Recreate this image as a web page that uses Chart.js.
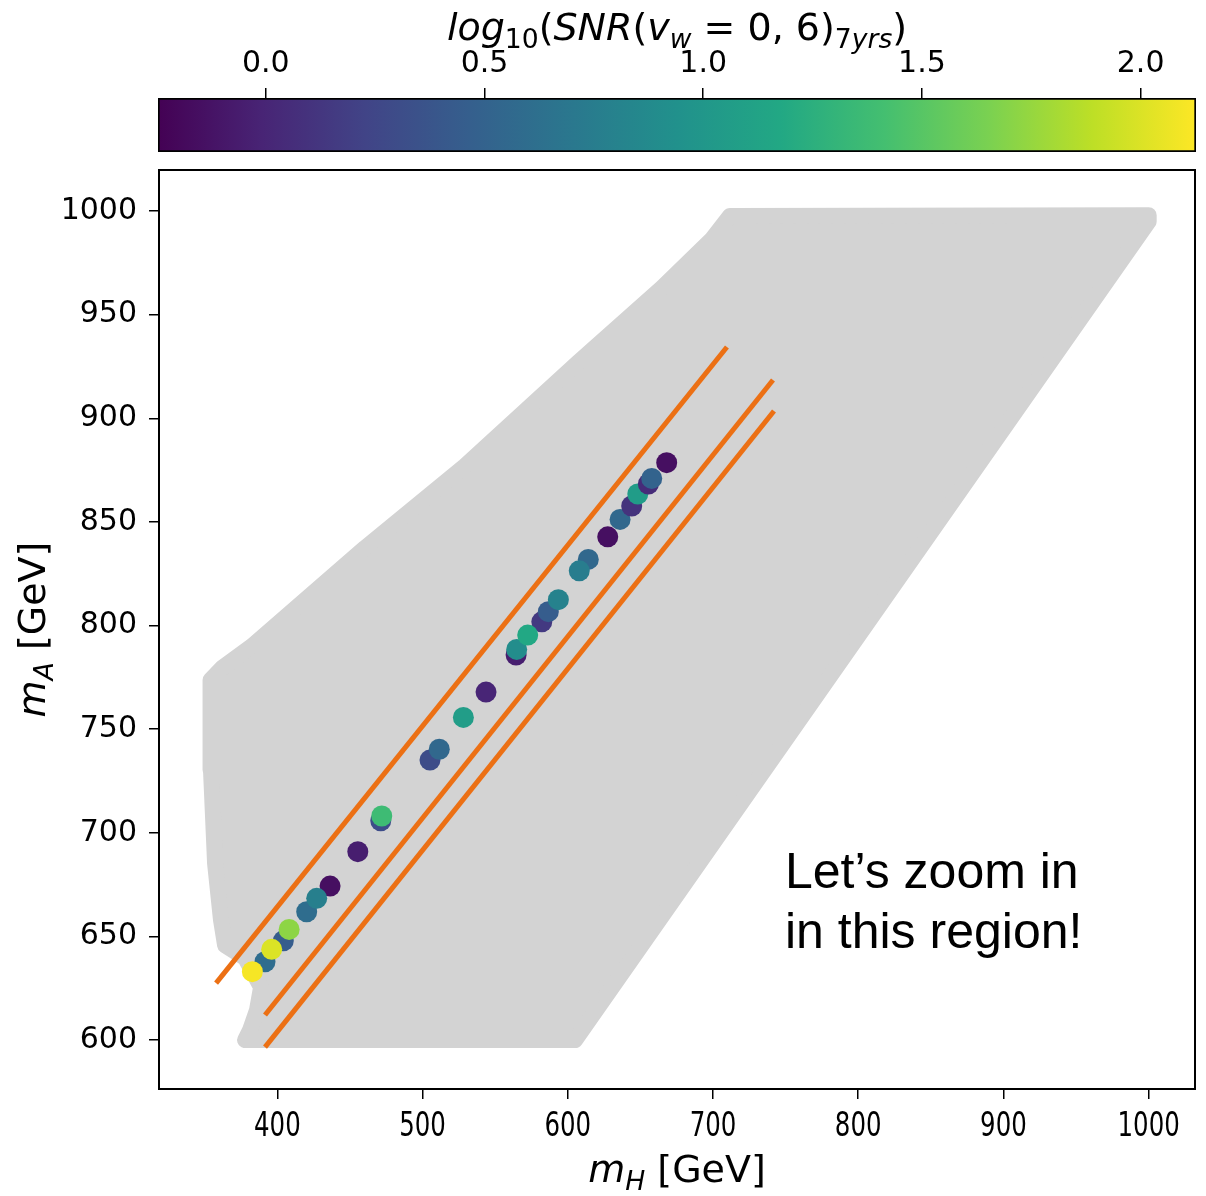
<!DOCTYPE html>
<html>
<head>
<meta charset="utf-8">
<title>m_H vs m_A scan</title>
<script src="https://cdn.jsdelivr.net/npm/chart.js@4.4.1/dist/chart.umd.min.js"></script>
<style>
  html, body { margin: 0; padding: 0; background: #fff; }
  #wrap { position: relative; width: 1206px; height: 1196px; }
  #wrap canvas { position: absolute; left: 0; top: 0; }
</style>
</head>
<body>
<div id="wrap">
  <canvas id="main" width="1206" height="1196"></canvas>
  <canvas id="cbar" width="1206" height="160"></canvas>
</div>
<script>
// axis ranges and ticks
const xLimits = [318.5, 1031.9];
const yLimits = [576.4, 1019.8];
const xTicks = [400, 500, 600, 700, 800, 900, 1000];
const yTicks = [600, 650, 700, 750, 800, 850, 900, 950, 1000];
const cbLimits = [-0.2465, 2.1266];
const cbTicks = [0.0, 0.5, 1.0, 1.5, 2.0];

// points with a signal: m_H, m_A, log10(SNR) (drawn in this order)
const snrMH = [391.5, 382.8, 404.1, 396.1, 408.1, 420.2, 436.3, 427.1, 455.4, 471.2,
               471.9, 505.1, 511.5, 528.1, 543.7, 564.4, 564.8, 582.1, 586.6, 572.4,
               593.5, 614.1, 607.9, 627.5, 636.0, 644.0, 648.2, 655.5, 657.8, 668.1];
const snrMA = [637.8, 633.0, 647.9, 643.8, 653.4, 661.9, 674.3, 668.4, 690.9, 705.8,
               708.1, 735.1, 740.3, 755.7, 767.9, 785.8, 788.5, 801.8, 806.7, 795.4,
               812.5, 831.9, 826.4, 842.8, 851.2, 857.7, 863.5, 868.3, 871.0, 878.6];
const snrLog = [0.60, 2.10, 0.45, 2.00, 1.72, 0.60, -0.15, 0.77, -0.05, 0.30,
                1.37, 0.30, 0.55, 1.06, 0.00, -0.05, 0.90, 0.15, 0.45, 1.18,
                0.80, 0.55, 0.75, -0.15, 0.55, 0.10, 1.05, 0.05, 0.50, -0.15];

// outline of the scanned parameter region (centres of the edge points)
const regionMH = [377.8, 381.2, 386.0, 388.8, 377.8, 364.0, 361.2, 357.1, 354.3, 353.7,
                  354.3, 361.9, 382.6, 460.4, 529.2, 607.1, 664.9, 699.4, 711.7, 1000.0,
                  1000.0, 605.0, 377.8];
const regionMA = [600.0, 604.8, 614.5, 625.6, 639.6, 645.8, 657.9, 685.4, 730.3, 754.4,
                  773.7, 779.5, 790.1, 837.5, 877.0, 927.0, 963.0, 986.5, 997.6, 998.0,
                  995.0, 600.0, 600.0];

// three straight cuts: [start, end]
const cutMH = [[357.8, 709.6], [391.5, 741.3], [391.5, 742.0]];
const cutMA = [[627.5, 934.4], [612.1, 918.5], [596.6, 903.5]];

const viridis = ['#440154', '#482475', '#414487', '#355f8d', '#2a788e', '#21918c',
                 '#22a884', '#44bf70', '#7ad151', '#bddf26', '#fde725'];

function hexRgb(h) {
    return [parseInt(h.slice(1, 3), 16), parseInt(h.slice(3, 5), 16), parseInt(h.slice(5, 7), 16)];
}

function viridisAt(t) {
    t = Math.max(0, Math.min(1, t));
    const f = t * (viridis.length - 1);
    const i = Math.min(Math.floor(f), viridis.length - 2);
    const a = hexRgb(viridis[i]), b = hexRgb(viridis[i + 1]);
    const k = f - i;
    const c = a.map((v, j) => Math.round(v + (b[j] - v) * k));
    return `rgb(${c[0]},${c[1]},${c[2]})`;
}

function colorFor(v) {
    return viridisAt((v - cbLimits[0]) / (cbLimits[1] - cbLimits[0]));
}

// text helpers
function drawScaled(ctx, text, x, y, font, sx, align) {
    ctx.save();
    ctx.font = font;
    const w = ctx.measureText(text).width * sx;
    const x0 = align === 'center' ? x - w / 2 : align === 'right' ? x - w : x;
    ctx.translate(x0, y);
    ctx.scale(sx, 1);
    ctx.textAlign = 'left';
    ctx.textBaseline = 'alphabetic';
    ctx.fillText(text, 0, 0);
    ctx.restore();
}

function drawMath(ctx, parts, cx, y, size, family) {
    const fontFor = p => `${p.it ? 'italic ' : ''}${p.sub ? size * 0.7 : size}px ${family}`;
    let total = 0;
    parts.forEach(p => { ctx.font = fontFor(p); total += ctx.measureText(p.t).width; });
    let x = cx - total / 2;
    ctx.textAlign = 'left';
    ctx.textBaseline = 'alphabetic';
    parts.forEach(p => {
        ctx.font = fontFor(p);
        ctx.fillText(p.t, x, y + (p.sub ? size * 0.2 : 0));
        x += ctx.measureText(p.t).width;
    });
}

const FAMILY = '"DejaVu Sans"';
Chart.defaults.font.family = FAMILY;
Chart.defaults.color = '#000';

// ---------- main scatter ----------
const decor = {
    id: 'decor',
    afterDraw(chart) {
        const { ctx, chartArea: a, scales } = chart;
        ctx.save();
        ctx.strokeStyle = '#000';
        ctx.lineWidth = 2;
        ctx.strokeRect(a.left, a.top, a.right - a.left, a.bottom - a.top);

        ctx.fillStyle = '#000';
        scales.x.ticks.forEach(t => {
            drawScaled(ctx, String(t.value), scales.x.getPixelForValue(t.value), a.bottom + 47,
                `34px ${FAMILY}`, 0.72, 'center');
        });

        drawMath(ctx, [{ t: 'm', it: true }, { t: 'H', it: true, sub: true }, { t: ' [GeV]' }],
            (a.left + a.right) / 2, 1182, 38, FAMILY);

        ctx.save();
        ctx.translate(45, (a.top + a.bottom) / 2);
        ctx.rotate(-Math.PI / 2);
        drawMath(ctx, [{ t: 'm', it: true }, { t: 'A', it: true, sub: true }, { t: ' [GeV]' }],
            0, 0, 38, FAMILY);
        ctx.restore();

        ctx.font = '50px "Liberation Sans"';
        ctx.textAlign = 'left';
        ctx.textBaseline = 'alphabetic';
        ctx.fillText('Let\u2019s zoom in', 785, 888);
        ctx.fillText('in this region!', 785, 948);
        ctx.restore();
    }
};

const regionData = regionMH.map((x, i) => ({ x, y: regionMA[i] }));
const pointData = snrMH.map((x, i) => ({ x, y: snrMA[i] }));
const cutSets = cutMH.map((xs, k) => ({
    type: 'line',
    data: xs.map((x, i) => ({ x, y: cutMA[k][i] })),
    borderColor: '#ec7014',
    borderWidth: 5,
    borderCapStyle: 'butt',
    pointRadius: 0,
    fill: false,
    order: 1
}));

new Chart(document.getElementById('main'), {
    type: 'scatter',
    data: {
        datasets: [
            {
                data: pointData,
                backgroundColor: snrLog.map(colorFor),
                borderWidth: 0,
                pointRadius: 10.5,
                order: 2
            },
            ...cutSets,
            {
                type: 'line',
                data: regionData,
                backgroundColor: '#d3d3d3',
                borderColor: '#d3d3d3',
                borderWidth: 16,
                borderJoinStyle: 'round',
                borderCapStyle: 'round',
                pointRadius: 0,
                tension: 0,
                fill: 'shape',
                order: 3
            }
        ]
    },
    options: {
        responsive: false,
        animation: false,
        events: [],
        layout: { padding: { top: 170, left: 0, right: 11, bottom: 0 } },
        plugins: { legend: { display: false }, tooltip: { enabled: false } },
        scales: {
            x: {
                type: 'linear',
                min: xLimits[0],
                max: xLimits[1],
                afterBuildTicks: s => { s.ticks = xTicks.map(v => ({ value: v })); },
                afterFit: s => { s.height = 107; },
                grid: { display: true, drawOnChartArea: false, drawTicks: true, tickLength: 10, color: '#000', lineWidth: 1.5 },
                border: { display: false },
                ticks: { display: false }
            },
            y: {
                type: 'linear',
                min: yLimits[0],
                max: yLimits[1],
                afterBuildTicks: s => { s.ticks = yTicks.map(v => ({ value: v })); },
                afterFit: s => { s.width = 159; },
                grid: { display: true, drawOnChartArea: false, drawTicks: true, tickLength: 10, color: '#000', lineWidth: 1.5 },
                border: { display: false },
                ticks: { font: { size: 30 }, color: '#000', padding: 12, callback: v => String(v) }
            }
        }
    },
    plugins: [decor]
});

// ---------- colour bar ----------
const cbarTitle = {
    id: 'cbarTitle',
    afterDraw(chart) {
        const { ctx, chartArea: a } = chart;
        ctx.save();
        ctx.fillStyle = '#000';
        drawMath(ctx, [
            { t: 'log', it: true }, { t: '10', sub: true }, { t: '(' },
            { t: 'SNR', it: true }, { t: '(' }, { t: 'v', it: true }, { t: 'w', it: true, sub: true },
            { t: ' = 0, 6)' }, { t: '7', sub: true }, { t: 'yrs', it: true, sub: true }, { t: ')' }
        ], (a.left + a.right) / 2, 40, 38, FAMILY);
        ctx.restore();
    }
};

new Chart(document.getElementById('cbar'), {
    type: 'bar',
    data: {
        labels: ['snr'],
        datasets: [{
            data: [cbLimits],
            backgroundColor: c => {
                const chart = c.chart;
                if (!chart.chartArea) return '#888';
                const sx = chart.scales.x;
                const g = chart.ctx.createLinearGradient(sx.getPixelForValue(cbLimits[0]), 0,
                    sx.getPixelForValue(cbLimits[1]), 0);
                viridis.forEach((col, i) => g.addColorStop(i / (viridis.length - 1), col));
                return g;
            },
            borderColor: '#000',
            borderWidth: 2,
            borderSkipped: false,
            barPercentage: 1,
            categoryPercentage: 1
        }]
    },
    options: {
        indexAxis: 'y',
        responsive: false,
        animation: false,
        events: [],
        layout: { padding: { top: 0, left: 158, right: 10, bottom: 8 } },
        plugins: { legend: { display: false }, tooltip: { enabled: false } },
        scales: {
            x: {
                type: 'linear',
                position: 'top',
                min: cbLimits[0],
                max: cbLimits[1],
                afterBuildTicks: s => { s.ticks = cbTicks.map(v => ({ value: v })); },
                afterFit: s => { s.height = 98; },
                grid: { display: true, drawOnChartArea: false, drawTicks: true, tickLength: 10, color: '#000', lineWidth: 1.5 },
                border: { display: false },
                ticks: { font: { size: 30 }, color: '#000', padding: 6, callback: v => v.toFixed(1) }
            },
            y: { display: false }
        }
    },
    plugins: [cbarTitle]
});
</script>
</body>
</html>
